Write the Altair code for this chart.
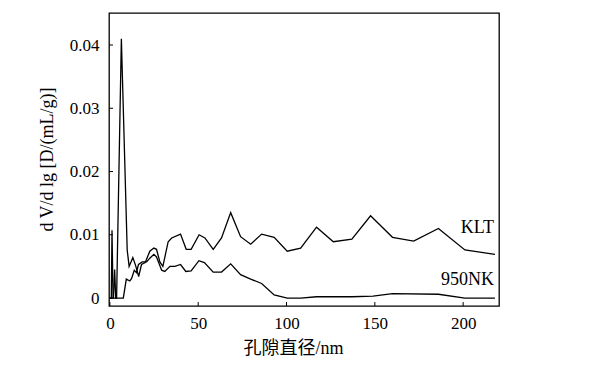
import altair as alt
import pandas as pd

# ---- data ----
klt_x = [0, 0.8, 1.2, 1.8, 3.8, 6.5, 9.8, 10.9, 13.0, 14.5, 16.3, 17.9, 20.0, 22.6, 24.9, 26.4,
         28.3, 30.0, 33.0, 35.0, 40.0, 43.2, 46.0, 50.5, 53.8, 58.5, 63.2, 68.4, 74.0, 79.7,
         85.9, 93.0, 100.4, 108.0, 117.0, 126.5, 137.0, 147.6, 160.0, 172.0, 186.0, 201.0, 218.0]
klt_y = [0, 0, 0.0107, 0, 0, 0.041, 0.0076, 0.0050, 0.0064, 0.0052, 0.0034, 0.0053, 0.0056, 0.0074,
         0.0079, 0.0077, 0.0057, 0.0050, 0.0089, 0.0095, 0.0101, 0.0077, 0.0077, 0.0100, 0.0095,
         0.0077, 0.0095, 0.0135, 0.0097, 0.0085, 0.0101, 0.0096, 0.0074, 0.0079, 0.0112, 0.0089,
         0.0093, 0.0130, 0.0096, 0.0090, 0.0110, 0.0076, 0.0069]

nk_x = [0, 2.0, 2.7, 3.3, 7.6, 9.3, 11.3, 12.3, 13.8, 15.0, 16.2, 18.3, 20.8, 22.6, 24.9, 26.4,
        29.3, 31.1, 34.0, 36.8, 40.0, 43.0, 46.0, 50.4, 53.5, 58.5, 63.2, 68.4, 74.0, 79.7, 85.9,
        93.0, 100.4, 108.0, 117.0, 137.0, 149.0, 160.0, 186.0, 201.0, 218.0]
nk_y = [0, 0, 0.0045, 0, 0, 0.0030, 0.0027, 0.0031, 0.0044, 0.0040, 0.0053, 0.0057, 0.0057, 0.0063,
        0.0069, 0.0065, 0.0044, 0.0042, 0.0050, 0.0050, 0.0053, 0.0042, 0.0043, 0.0059, 0.0056,
        0.0041, 0.0041, 0.0054, 0.0037, 0.0030, 0.0023, 0.0005, 0.0, 0.0, 0.0002, 0.0002, 0.0003,
        0.0007, 0.0006, 0.0, 0.0]

series_names = ["KLT", "950NK"]
label_x = [217.5, 217.5]
label_y = [0.0111, 0.00285]

x_ticks = [0, 50, 100, 150, 200]
y_ticks = [0, 0.01, 0.02, 0.03, 0.04]

x_domain = [-0.5, 220.3]
y_domain = [-0.00126, 0.04506]

W, H = 390, 293
SERIF = "'Times New Roman', 'Liberation Serif', 'DejaVu Serif', serif"
CJK = "'Times New Roman', 'Liberation Serif', 'Noto Sans CJK SC', serif"

df = pd.concat([
    pd.DataFrame({"d": klt_x, "v": klt_y, "s": series_names[0]}),
    pd.DataFrame({"d": nk_x, "v": nk_y, "s": series_names[1]}),
])
lab = pd.DataFrame({"d": label_x, "v": label_y, "t": series_names})
xt = pd.DataFrame({"d": x_ticks})
yt = pd.DataFrame({"v": y_ticks})

xs = alt.Scale(domain=x_domain, nice=False, zero=False)
ys = alt.Scale(domain=y_domain, nice=False, zero=False)

label_expr = "datum.value == 0 ? '0' : format(datum.value, '.2f')"

lines = alt.Chart(df).mark_line(color="black", strokeWidth=1.3, clip=True).encode(
    x=alt.X("d:Q", scale=xs, axis=alt.Axis(
        values=x_ticks, ticks=False, domain=False, grid=False, labelPadding=9,
        labelFlush=False, labelOverlap=False,
        labelFont=SERIF, labelFontSize=17, labelColor="black",
        title="孔隙直径/nm", titleFont=CJK, titleFontSize=18, titleFontWeight="normal",
        titleColor="black", titleX=184, titleY=42, titleBaseline="middle")),
    y=alt.Y("v:Q", scale=ys, axis=alt.Axis(
        values=y_ticks, ticks=False, domain=False, grid=False, labelPadding=10,
        labelFlush=False, labelOverlap=False,
        labelExpr=label_expr,
        labelFont=SERIF, labelFontSize=17, labelColor="black",
        title="d V/d lg [D/(mL/g)]", titleFont=SERIF, titleFontSize=18,
        titleFontWeight="normal", titleColor="black", titleX=-62, titleY=146,
        titleBaseline="middle")),
    detail="s:N",
)

texts = alt.Chart(lab).mark_text(align="right", baseline="middle", font=SERIF,
                                 fontSize=18, color="black").encode(
    x=alt.X("d:Q", scale=xs), y=alt.Y("v:Q", scale=ys), text="t:N")

xticks = alt.Chart(xt).mark_rule(color="black", strokeWidth=1).encode(
    x=alt.X("d:Q", scale=xs), y=alt.value(H), y2=alt.value(H - 4))
yticks = alt.Chart(yt).mark_rule(color="black", strokeWidth=1).encode(
    y=alt.Y("v:Q", scale=ys), x=alt.value(0), x2=alt.value(4))

chart = alt.layer(lines, texts, xticks, yticks).properties(
    width=W, height=H,
    background="white",
    autosize=alt.AutoSizeParams(type="none"),
    padding={"left": 101, "top": 5, "right": 40, "bottom": 60},
).configure_view(stroke="black", strokeWidth=1.3)

chart.save("out.html", embed_options={"renderer": "svg", "actions": False})
